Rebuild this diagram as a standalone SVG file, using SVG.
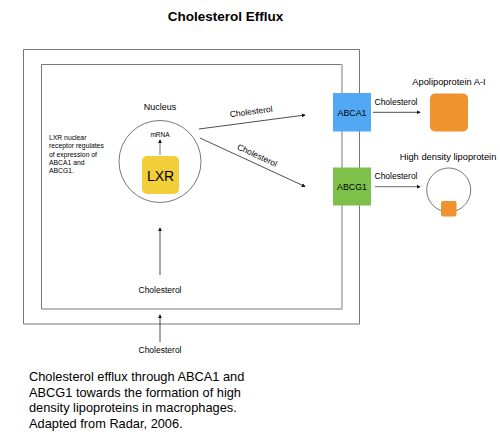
<svg xmlns="http://www.w3.org/2000/svg" width="500" height="439" viewBox="0 0 500 439">
<defs>
<style>
text{font-family:"Liberation Sans",Arial,sans-serif;fill:#000}
.c{text-anchor:middle}
.ln{stroke:#222;stroke-width:0.8;fill:none}
.lg{stroke:#888;stroke-width:1.2;fill:none}
</style>
<marker id="ah" viewBox="0 0 6 6" refX="5" refY="3" markerWidth="4" markerHeight="4" markerUnits="userSpaceOnUse" orient="auto"><path d="M0,0L6,3L0,6z" fill="#111"/></marker>
</defs>
<rect width="500" height="439" fill="#fff"/>
<text class="c" x="225.5" y="21" font-size="13.5" font-weight="bold">Cholesterol Efflux</text>
<g id="cell">
<path d="M23.5,324 V49.5 H359.5 V324 Z" fill="none" stroke="#777" stroke-width="1"/>
</g>
<g id="cytoplasm">
<path d="M342,309 H41.5 V64.5 H342" fill="none" stroke="#777" stroke-width="1"/>
<line x1="342" y1="64" x2="342" y2="309.5" stroke="#bbb" stroke-width="2"/>
</g>
<g id="note">
<text x="49" y="140" font-size="6.8">LXR nuclear</text>
<text x="49" y="148.3" font-size="6.8">receptor regulates</text>
<text x="49" y="156.6" font-size="6.8">of expression of</text>
<text x="49" y="164.9" font-size="6.8">ABCA1 and</text>
<text x="49" y="173.2" font-size="6.8">ABCG1.</text>
</g>
<g id="nucleus">
<circle cx="160" cy="161.5" r="41" fill="none" stroke="#555" stroke-width="0.8"/>
<text class="c" x="160" y="110" font-size="9">Nucleus</text>
</g>
<g id="lxr">
<rect x="142" y="156" width="37" height="38" rx="5" fill="#F2CE3A"/>
<text class="c" x="160.5" y="180.5" font-size="14">LXR</text>
</g>
<g id="mrna">
<text class="c" x="160" y="136.5" font-size="6.5">mRNA</text>
</g>
<g id="abca1">
<rect x="333" y="93" width="38" height="38.5" fill="#52A8F2"/>
<text class="c" x="352" y="116" font-size="8.8">ABCA1</text>
</g>
<g id="abcg1">
<rect x="333" y="167.5" width="38" height="38" fill="#7DC14B"/>
<text class="c" x="352" y="190" font-size="8.8">ABCG1</text>
</g>
<g id="apoa1">
<rect x="430" y="93.5" width="38" height="38" rx="5" fill="#F0922E"/>
<text class="c" x="449" y="85" font-size="9.3">Apolipoprotein A-I</text>
</g>
<g id="hdl">
<circle cx="448.7" cy="190" r="22" fill="none" stroke="#555" stroke-width="0.8"/>
<rect x="441" y="201" width="15.5" height="15.5" rx="2" fill="#F0922E"/>
<text class="c" x="448" y="160" font-size="9.3">High density lipoprotein</text>
</g>
<g id="chol-in">
<text class="c" x="160" y="293" font-size="8.5">Cholesterol</text>
</g>
<g id="chol-out">
<text class="c" x="160" y="353" font-size="8.5">Cholesterol</text>
</g>
<g id="connectors">
<line class="lg" x1="160" y1="155" x2="160" y2="140" marker-end="url(#ah)"/>
<line class="ln" x1="199" y1="129" x2="305" y2="115" marker-end="url(#ah)"/>
<text class="c" font-size="8.5" transform="translate(251.5,114.5) rotate(-7.6)">Cholesterol</text>
<line class="ln" x1="200" y1="138" x2="305" y2="186.5" marker-end="url(#ah)"/>
<text class="c" font-size="8.5" transform="translate(256,158) rotate(25)">Cholesterol</text>
<line class="ln" x1="373" y1="112.3" x2="420" y2="112.3" marker-end="url(#ah)"/>
<text class="c" x="396" y="105" font-size="8.5">Cholesterol</text>
<line class="lg" x1="375" y1="186.7" x2="420" y2="186.7" marker-end="url(#ah)"/>
<text class="c" x="396" y="179" font-size="8.5">Cholesterol</text>
<line class="ln" x1="160" y1="275" x2="160" y2="228" marker-end="url(#ah)"/>
<line class="ln" x1="160" y1="342" x2="160" y2="315" marker-end="url(#ah)"/>
</g>
<g id="caption">
<text x="29" y="381" font-size="12.8">Cholesterol efflux through ABCA1 and</text>
<text x="29" y="396.5" font-size="12.8">ABCG1 towards the formation of high</text>
<text x="29" y="412" font-size="12.8">density lipoproteins in macrophages.</text>
<text x="29" y="427.5" font-size="12.8">Adapted from Radar, 2006.</text>
</g>
</svg>
